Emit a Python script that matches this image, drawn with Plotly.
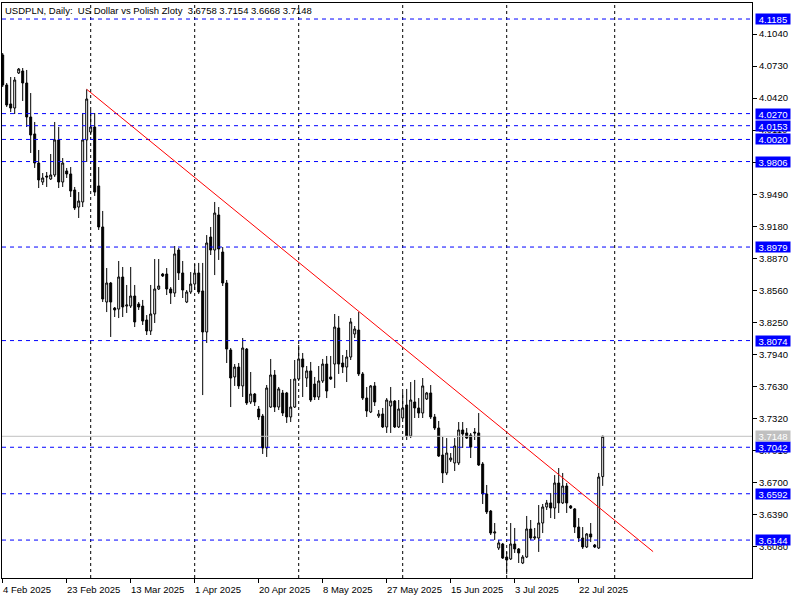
import plotly.graph_objects as go

# ---------------- data (USDPLN daily bars) ----------------
opens = [4.0837, 4.0547, 4.0363, 4.0324, 4.0663, 4.0682, 4.0566, 4.0237, 4.0073, 3.9792,
         3.9608, 3.9666, 3.9637, 3.9676, 4.0015, 3.9608, 3.9715, 3.9686, 3.9531, 3.9366,
         3.9415, 4.0015, 4.0092, 4.0140, 3.9570, 3.9173, 3.8447, 3.8631, 3.8389, 3.8379,
         3.8689, 3.8408, 3.8408, 3.8505, 3.8428, 3.8408, 3.8273, 3.8167, 3.8331, 3.8573,
         3.8718, 3.8718, 3.8573, 3.8534, 3.8950, 3.8728, 3.8447, 3.8544, 3.8621, 3.8728,
         3.8554, 3.8157, 3.9076, 3.8950, 3.9289, 3.8931, 3.8631, 3.7983, 3.7722, 3.7818,
         3.7635, 3.7992, 3.7480, 3.7557, 3.7412, 3.7344, 3.7035, 3.7431, 3.7741, 3.7431,
         3.7567, 3.7567, 3.7335, 3.7431, 3.7702, 3.7896, 3.7712, 3.7780, 3.7654, 3.7528,
         3.7683, 3.7847, 3.7722, 3.7847, 3.8196, 3.7857, 3.7818, 3.7915, 3.8138, 3.8176,
         3.7751, 3.7518, 3.7383, 3.7635, 3.7344, 3.7364, 3.7238, 3.7441, 3.7489, 3.7238,
         3.7325, 3.7451, 3.7151, 3.7480, 3.7422, 3.7373, 3.7509, 3.7567, 3.7335, 3.7228,
         3.6967, 3.6793, 3.6919, 3.6890, 3.6890, 3.7209, 3.7180, 3.7160, 3.7189, 3.7180,
         3.6880, 3.6590, 3.6425, 3.6212, 3.6067, 3.6106, 3.5980, 3.5961, 3.6106, 3.6058,
         3.5922, 3.5980, 3.6251, 3.6164, 3.6164, 3.6309, 3.6464, 3.6503, 3.6454, 3.6696,
         3.6503, 3.6667, 3.6474, 3.6445, 3.6270, 3.6164, 3.6077, 3.6203, 3.6096, 3.6067,
         3.6758]
highs = [4.0856, 4.0566, 4.0624, 4.0624, 4.0711, 4.0711, 4.0692, 4.0469, 4.0189, 3.9918,
         3.9695, 3.9705, 3.9879, 4.0189, 4.0140, 3.9840, 3.9744, 3.9753, 3.9560, 3.9511,
         4.0276, 4.0505, 4.0305, 4.0276, 3.9753, 3.9328, 3.8776, 3.8641, 3.8399, 3.8844,
         3.8786, 3.8612, 3.8786, 3.8612, 3.8447, 3.8467, 3.8321, 3.8612, 3.8863, 3.8863,
         3.8728, 3.8776, 3.8592, 3.8989, 3.8970, 3.8844, 3.8563, 3.8737, 3.8815, 3.8825,
         3.8825, 3.9095, 3.9173, 3.9415, 3.9366, 3.8979, 3.8660, 3.8002, 3.7847, 3.7857,
         3.8099, 3.8002, 3.7770, 3.7567, 3.7441, 3.7364, 3.7644, 3.7896, 3.7789, 3.7625,
         3.7596, 3.7577, 3.7702, 3.7886, 3.8031, 3.7954, 3.7828, 3.7867, 3.7722, 3.7828,
         3.7896, 3.7925, 3.7925, 3.8331, 3.8312, 3.7934, 3.7983, 3.8292, 3.8215, 3.8350,
         3.7770, 3.7625, 3.7644, 3.7673, 3.7402, 3.7422, 3.7518, 3.7625, 3.7499, 3.7499,
         3.7576, 3.7606, 3.7673, 3.7693, 3.7518, 3.7712, 3.7577, 3.7644, 3.7364, 3.7296,
         3.7141, 3.7131, 3.6986, 3.7131, 3.7286, 3.7286, 3.7228, 3.7180, 3.7228, 3.7373,
         3.6899, 3.6677, 3.6435, 3.6309, 3.6145, 3.6116, 3.6029, 3.6309, 3.6261, 3.6067,
         3.5999, 3.6377, 3.6338, 3.6261, 3.6483, 3.6493, 3.6532, 3.6599, 3.6773, 3.6841,
         3.6793, 3.6696, 3.6483, 3.6454, 3.6357, 3.6270, 3.6212, 3.6309, 3.6106, 3.6793,
         3.7154]
lows = [4.0527, 4.0334, 4.0285, 4.0266, 4.0653, 4.0392, 4.0140, 3.9889, 3.9744, 3.9550,
        3.9579, 3.9560, 3.9628, 3.9657, 3.9550, 3.9560, 3.9647, 3.9463, 3.9337, 3.9260,
        3.9366, 3.9802, 4.0063, 3.9473, 3.9144, 3.8447, 3.8350, 3.8109, 3.8302, 3.8292,
        3.8302, 3.8341, 3.8389, 3.8205, 3.8370, 3.8225, 3.8128, 3.8128, 3.8244, 3.8563,
        3.8689, 3.8515, 3.8428, 3.8496, 3.8660, 3.8486, 3.8437, 3.8525, 3.8563, 3.8525,
        3.7547, 3.8051, 3.8902, 3.8708, 3.8854, 3.8602, 3.7857, 3.7431, 3.7635, 3.7606,
        3.7528, 3.7451, 3.7460, 3.7441, 3.7306, 3.6977, 3.6948, 3.7422, 3.7383, 3.7402,
        3.7344, 3.7277, 3.7286, 3.7422, 3.7683, 3.7528, 3.7625, 3.7480, 3.7499, 3.7499,
        3.7664, 3.7518, 3.7693, 3.7615, 3.7751, 3.7760, 3.7673, 3.7886, 3.8099, 3.7731,
        3.7499, 3.7335, 3.7373, 3.7441, 3.7325, 3.7228, 3.7180, 3.7180, 3.7228, 3.7228,
        3.7315, 3.7112, 3.7131, 3.7325, 3.7325, 3.7325, 3.7499, 3.7315, 3.7209, 3.6948,
        3.6696, 3.6773, 3.6899, 3.6812, 3.6870, 3.7035, 3.7122, 3.6938, 3.7112, 3.6861,
        3.6493, 3.6396, 3.6193, 3.6145, 3.6048, 3.5961, 3.5815, 3.5951, 3.6019, 3.5922,
        3.5912, 3.5970, 3.6145, 3.6145, 3.6029, 3.6212, 3.6435, 3.6357, 3.6348, 3.6406,
        3.6493, 3.6406, 3.6445, 3.6212, 3.6125, 3.6058, 3.6067, 3.6125, 3.6067, 3.6058,
        3.6668]
closes = [4.0547, 4.0353, 4.0324, 4.0595, 4.0701, 4.0566, 4.0237, 4.0063, 3.9792, 3.9628,
          3.9647, 3.9657, 3.9676, 4.0015, 3.9608, 3.9792, 3.9686, 3.9521, 3.9357, 3.9424,
          4.0015, 4.0411, 4.0140, 3.9511, 3.9173, 3.8476, 3.8631, 3.8447, 3.8370, 3.8689,
          3.8399, 3.8418, 3.8505, 3.8254, 3.8399, 3.8263, 3.8167, 3.8331, 3.8573, 3.8602,
          3.8699, 3.8573, 3.8534, 3.8912, 3.8728, 3.8563, 3.8544, 3.8621, 3.8728, 3.8544,
          3.8157, 3.9018, 3.8950, 3.9308, 3.8960, 3.8631, 3.7992, 3.7712, 3.7818, 3.7635,
          3.8002, 3.7470, 3.7557, 3.7480, 3.7335, 3.7035, 3.7615, 3.7741, 3.7431, 3.7606,
          3.7373, 3.7335, 3.7431, 3.7702, 3.7896, 3.7818, 3.7780, 3.7499, 3.7528, 3.7683,
          3.7847, 3.7586, 3.7702, 3.8205, 3.7847, 3.7818, 3.7915, 3.8254, 3.8186, 3.7751,
          3.7518, 3.7393, 3.7635, 3.7480, 3.7364, 3.7238, 3.7499, 3.7489, 3.7238, 3.7412,
          3.7422, 3.7151, 3.7499, 3.7422, 3.7373, 3.7635, 3.7567, 3.7335, 3.7228, 3.6957,
          3.6793, 3.6986, 3.6938, 3.7054, 3.7209, 3.7170, 3.7131, 3.7044, 3.7180, 3.6870,
          3.6590, 3.6416, 3.6212, 3.6222, 3.6116, 3.5970, 3.5951, 3.6106, 3.6058, 3.6019,
          3.5980, 3.6251, 3.6164, 3.6174, 3.6309, 3.6464, 3.6503, 3.6454, 3.6696, 3.6503,
          3.6667, 3.6503, 3.6454, 3.6270, 3.6164, 3.6077, 3.6203, 3.6174, 3.6077, 3.6754,
          3.7148]
bar_index = list(range(len(opens)))

date_tick_idx = [0, 16, 32, 48, 64, 80, 96, 112, 128, 144]
date_tick_labels = ["4 Feb 2025", "23 Feb 2025", "13 Mar 2025", "1 Apr 2025", "20 Apr 2025",
                    "8 May 2025", "27 May 2025", "15 Jun 2025", "3 Jul 2025", "22 Jul 2025"]
month_start_idx = [22, 48, 74, 100, 126, 153]

price_ticks = [3.6080, 3.6390, 3.6700, 3.7010, 3.7320, 3.7630, 3.7940, 3.8250, 3.8560,
               3.8870, 3.9180, 3.9490, 3.9800, 4.0110, 4.0420, 4.0730, 4.1040]
level_prices = [4.1185, 4.0270, 4.0153, 4.0020, 3.9806, 3.8979, 3.8074, 3.7042, 3.6592, 3.6144]
bid_price = 3.7148
trend_idx = [21, 162.6]
trend_price = [4.0505, 3.6032]

symbol = "USDPLN"
timeframe = "Daily"
description = "US Dollar vs Polish Zloty"

x_range = [-0.175, 187.325]
y_range = [3.5777, 4.1340]

FONT = "Liberation Sans"
FS = 9.5

# ---------------- figure ----------------
fig = go.Figure()
fig.add_trace(go.Candlestick(
    x=bar_index, open=opens, high=highs, low=lows, close=closes,
    increasing=dict(line=dict(color="black", width=1), fillcolor="white"),
    decreasing=dict(line=dict(color="black", width=1), fillcolor="black"),
    whiskerwidth=0, showlegend=False, hoverinfo="skip"))

# period separators
for idx in month_start_idx:
    fig.add_shape(type="line", xref="x", yref="paper", x0=idx, x1=idx, y0=0, y1=1,
                  line=dict(color="black", width=1, dash="3px,3px"), layer="below")

# horizontal levels
for lvl in level_prices:
    fig.add_shape(type="line", xref="paper", yref="y", x0=0, x1=1, y0=lvl, y1=lvl,
                  line=dict(color="#0000FF", width=1, dash="4px,4px"))
    fig.add_annotation(xref="paper", yref="y", x=1, y=lvl, xanchor="left", yanchor="middle",
                       xshift=3, text=f"{lvl:.4f}", showarrow=False, bgcolor="#0000FF",
                       font=dict(family=FONT, size=FS, color="white"),
                       width=34, height=10, borderpad=0, align="center")

# bid line
fig.add_shape(type="line", xref="paper", yref="y", x0=0, x1=1, y0=bid_price, y1=bid_price,
              line=dict(color="#C0C0C0", width=1))
fig.add_annotation(xref="paper", yref="y", x=1, y=bid_price, xanchor="left", yanchor="middle",
                   xshift=3, text=f"{bid_price:.4f}", showarrow=False, bgcolor="#C0C0C0",
                   font=dict(family=FONT, size=FS, color="white"),
                   width=34, height=10, borderpad=0, align="center")

# trend line
fig.add_shape(type="line", xref="x", yref="y", x0=trend_idx[0], y0=trend_price[0],
              x1=trend_idx[1], y1=trend_price[1], line=dict(color="#FF0000", width=1))

# date labels (left-aligned at ticks, MT5 style)
for idx, lab in zip(date_tick_idx, date_tick_labels):
    fig.add_annotation(xref="x", yref="paper", x=idx, y=0, xanchor="left", yanchor="middle",
                       xshift=-1, yshift=-11, text=lab, showarrow=False, borderpad=0,
                       font=dict(family=FONT, size=FS, color="black"))

# title
nb = "\u00a0"
title_txt = (f"{symbol},{nb}{timeframe}:{nb}{nb}{description}{nb}{nb}"
             f"{opens[-1]:.4f}{nb}{highs[-1]:.4f}{nb}{lows[-1]:.4f}{nb}{closes[-1]:.4f}")
fig.add_annotation(xref="paper", yref="paper", x=0, y=1, xanchor="left", yanchor="top",
                   xshift=2, yshift=-1, text=title_txt, showarrow=False, borderpad=0,
                   font=dict(family=FONT, size=FS, color="black"))

fig.update_layout(
    width=800, height=600,
    margin=dict(l=2, r=48, t=3, b=22, pad=0),
    paper_bgcolor="white", plot_bgcolor="white",
    showlegend=False,
    font=dict(family=FONT, size=FS, color="black"),
    xaxis=dict(range=x_range, showgrid=False, zeroline=False, showline=True, mirror=True,
               linecolor="black", linewidth=1, ticks="outside", ticklen=4, tickcolor="black",
               tickvals=date_tick_idx, showticklabels=False, rangeslider=dict(visible=False),
               fixedrange=True),
    yaxis=dict(range=y_range, side="right", showgrid=False, zeroline=False, showline=True,
               mirror=True, linecolor="black", linewidth=1, ticks="outside", ticklen=4,
               tickcolor="black", tickvals=price_ticks,
               ticktext=[f"{v:.4f}" for v in price_ticks],
               tickfont=dict(family=FONT, size=FS, color="black"), fixedrange=True),
)

fig.write_html("out.html", config={"displayModeBar": False},
               post_script="document.body.style.margin='0';document.body.style.overflow='hidden';")
